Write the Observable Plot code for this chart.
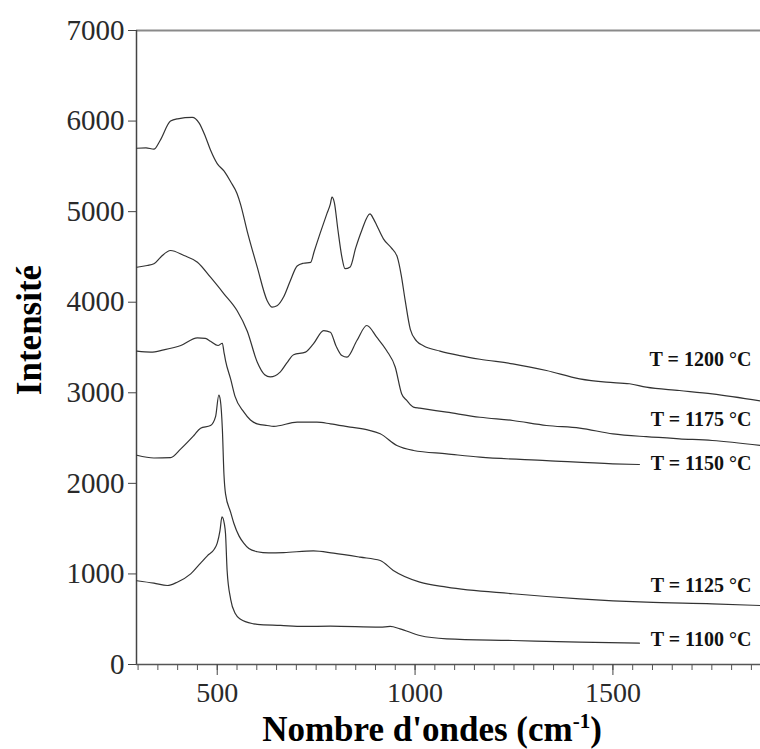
<!DOCTYPE html>
<html>
<head>
<meta charset="utf-8">
<script src="https://cdn.jsdelivr.net/npm/d3@7"></script>
<script src="https://cdn.jsdelivr.net/npm/@observablehq/plot@0.6"></script>
<style>
  body { margin: 0; background: #fff; }
  #chart svg { display: block; }
</style>
</head>
<body>
<div id="chart"></div>
<script>
// ---- Data ----
const seriesNames = ["T = 1200 °C", "T = 1175 °C", "T = 1150 °C", "T = 1125 °C", "T = 1100 °C"];

const wn1200 = [297,320,340,355,382,400,437,454,470,483,500,517,534,550,559,576,601,626,639,651,668,685,702,718,736,745,760,777,786,790,796,805,815,823,836,850,865,886,895,903,920,940,955,965,975,988,1004,1021,1063,1113,1164,1247,1332,1416,1483,1542,1584,1668,1751,1873];
const int1200 = [5700,5705,5690,5780,6000,6025,6040,5980,5830,5680,5530,5450,5330,5200,5080,4780,4390,4020,3945,3960,4060,4240,4400,4430,4440,4560,4760,4975,5086,5160,5100,4800,4500,4370,4390,4600,4790,4975,4920,4850,4700,4600,4500,4300,4020,3700,3570,3520,3460,3410,3370,3320,3246,3154,3117,3100,3062,3025,2988,2910];

const wn1175 = [297,323,340,357,382,416,450,483,517,550,576,601,620,634,659,676,693,723,743,769,786,800,815,828,853,878,903,928,950,966,979,996,1012,1080,1164,1247,1332,1416,1500,1584,1668,1751,1873];
const int1175 = [4386,4405,4424,4497,4571,4515,4442,4276,4093,3908,3680,3340,3200,3175,3228,3330,3420,3449,3540,3687,3669,3520,3411,3393,3577,3743,3614,3467,3282,2990,2915,2841,2830,2786,2730,2694,2639,2610,2547,2515,2492,2473,2418];

const wn1150 = [297,332,365,408,450,470,483,502,513,517,521,534,545,567,584,601,626,643,702,752,786,836,880,912,954,996,1080,1164,1332,1500,1567];
const int1150 = [3459,3449,3474,3522,3606,3600,3569,3522,3547,3450,3356,3150,2960,2790,2700,2657,2639,2630,2675,2675,2657,2621,2590,2547,2418,2363,2326,2289,2252,2216,2208];

const wn1125 = [297,340,382,408,441,458,483,496,504,508,513,517,521,534,542,555,567,580,601,630,668,743,794,861,912,945,1012,1080,1247,1416,1584,1751,1873];
const int1125 = [2310,2280,2285,2381,2528,2609,2639,2740,2975,2915,2600,2100,1884,1680,1560,1420,1340,1280,1245,1232,1235,1255,1229,1185,1148,1038,909,854,781,725,688,670,651];

const wn1100 = [297,340,374,399,433,458,475,492,500,507,512,518,521,525,534,546,559,592,601,660,718,786,912,937,962,1012,1080,1247,1416,1567];
const int1100 = [925,898,872,909,1001,1120,1200,1270,1340,1479,1630,1553,1443,1038,720,560,500,449,442,431,420,423,412,420,394,320,283,265,246,235];

// label anchors (data units)
const labelX = [1850, 1850, 1850, 1850, 1850];
const labelY = [3367, 2705, 2219, 872, 276];

const yTicks = [0, 1000, 2000, 3000, 4000, 5000, 6000, 7000];
const xMajorTicks = [500, 1000, 1500];
const xMinorTicks = d3.range(300, 1873, 50);

// ---- Build tables ----
const allWn = [wn1200, wn1175, wn1150, wn1125, wn1100];
const allInt = [int1200, int1175, int1150, int1125, int1100];
const rows = [];
seriesNames.forEach((name, s) => {
  allWn[s].forEach((w, i) => rows.push({series: name, wn: w, intensity: allInt[s][i]}));
});
const labels = seriesNames.map((name, i) => ({text: name, x: labelX[i], y: labelY[i]}));

const chart = Plot.plot({
  width: 760,
  height: 749,
  marginLeft: 136,
  marginRight: 0,
  marginTop: 30,
  marginBottom: 85,
  x: {domain: [296, 1873]},
  y: {domain: [0, 7000]},
  style: {fontFamily: "'Liberation Serif', 'Times New Roman', serif", background: "#fff", overflow: "visible"},
  marks: [
    Plot.ruleY([7000], {stroke: "#8a8a8a", strokeWidth: 2}),
    Plot.ruleX([296], {stroke: "#444", strokeWidth: 1.5}),
    Plot.ruleY([0], {stroke: "#555", strokeWidth: 1.5}),
    Plot.axisY({ticks: yTicks, tickSize: 8, tickPadding: 4, tickFormat: d => String(d), fontSize: 29, label: null, stroke: "#444", fill: "#2a2a2a"}),
    Plot.axisX({ticks: xMinorTicks, tickSize: 6, tickFormat: () => "", label: null, stroke: "#555"}),
    Plot.axisX({ticks: xMajorTicks, tickSize: 11, tickPadding: 7, fontSize: 28, label: null, stroke: "#444", fill: "#2a2a2a", tickFormat: d => String(d)}),
    Plot.line(rows, {x: "wn", y: "intensity", z: "series", stroke: "#333", strokeWidth: 1.2, curve: "monotone-x"}),
    Plot.text(labels, {x: "x", y: "y", text: "text", textAnchor: "end", lineAnchor: "middle", fontWeight: "bold", fontSize: 20, fill: "#111"})
  ]
});

const svg = d3.select(chart);
// y axis title
svg.append("text")
  .attr("transform", "translate(41,330) rotate(-90)")
  .attr("text-anchor", "middle")
  .attr("font-family", "'Liberation Serif', 'Times New Roman', serif")
  .attr("font-weight", "bold")
  .attr("font-size", 35)
  .attr("fill", "#000")
  .text("Intensité");
// x axis title with superscript
const xt = svg.append("text")
  .attr("x", 432).attr("y", 741)
  .attr("text-anchor", "middle")
  .attr("font-family", "'Liberation Serif', 'Times New Roman', serif")
  .attr("font-weight", "bold")
  .attr("font-size", 35)
  .attr("fill", "#000");
xt.append("tspan").text("Nombre d'ondes (cm");
xt.append("tspan").attr("dy", -13).attr("font-size", 21).text("-1");
xt.append("tspan").attr("dy", 13).text(")");

document.getElementById("chart").appendChild(chart);
</script>
</body>
</html>
